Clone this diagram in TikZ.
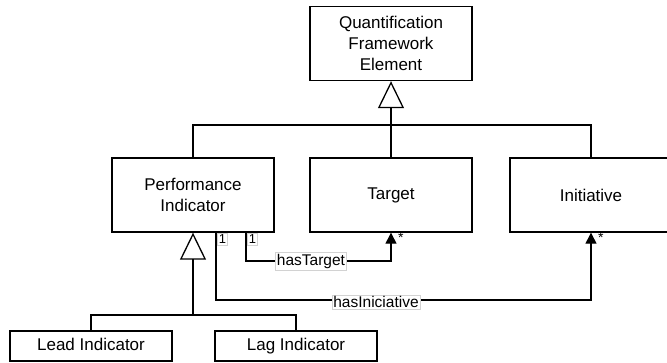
\documentclass[tikz,border=0pt]{standalone}
\usepackage{fontspec}
\setmainfont{Liberation Sans}
\usetikzlibrary{arrows.meta}

\begin{document}
\begin{tikzpicture}[x=1pt,y=-1pt,
  classbox/.style={draw=black,line width=1.4pt,minimum height=74pt,align=center,
    font=\fontsize{17}{21}\selectfont,inner sep=0pt},
  smallbox/.style={draw=black,line width=1.4pt,minimum height=30pt,minimum width=162pt,
    font=\fontsize{17}{21}\selectfont,inner sep=0pt,text height=12.5pt,text depth=3.5pt},
  gen/.style={line width=1.3pt,-{Triangle[open,length=27pt,width=26pt]}},
  conn/.style={line width=1.3pt},
  assoc/.style={line width=1.3pt,-{Triangle[length=11pt,width=11pt]}},
  edgelabel/.style={draw=gray!35,line width=0.6pt,fill=white,inner sep=1.5pt,
    font=\fontsize{15.5}{18}\selectfont},
  multlabel/.style={draw=gray!35,line width=0.5pt,fill=white,inner sep=1.5pt,
    font=\fontsize{13}{15}\selectfont},
  starlabel/.style={inner sep=1pt,font=\fontsize{14}{16}\selectfont}]
\useasboundingbox (0,0) rectangle (667,362);

% classes
\node[classbox,minimum width=162pt] (qfe) at (391,43.5) {Quantification\\Framework\\Element};
\node[classbox,minimum width=162pt] (pi) at (193,195) {Performance\\Indicator};
\node[classbox,minimum width=162pt] (target) at (391,195) {Target};
\node[classbox,minimum width=162pt] (init) at (591,195) {Initiative};
\node[smallbox] (lead) at (91,346) {Lead Indicator};
\node[smallbox] (lag) at (296,346) {Lag Indicator};

% generalisation to Quantification Framework Element
\coordinate (j1) at (391,125);
\draw[conn] (pi.north) |- (j1);
\draw[conn] (init.north) |- (j1);
\draw[gen] (target.north) -- (qfe.south);

% generalisation to Performance Indicator
\coordinate (j2) at (193,315);
\draw[conn] (lead.north) |- (j2);
\draw[conn] (lag.north) |- (j2);
\draw[gen] (j2) -- (pi.south);

% hasTarget association
\coordinate (t1) at (246,261);
\coordinate (t2) at (391,261);
\draw[assoc] (pi.south -| t1) -- (t1) -- (t2) -- (target.south);
\node[edgelabel] (ht) at (311,261.5) {hasTarget};

% hasIniciative association
\coordinate (i1) at (216,300);
\coordinate (i2) at (591,300);
\draw[assoc] (pi.south -| i1) -- (i1) -- (i2) -- (init.south);
\node[edgelabel] (hi) at (376,302) {hasIniciative};

% multiplicities
\node[multlabel,anchor=north west] (m1) at (217,233) {1};
\node[multlabel,anchor=north west] (m2) at (247,233) {1};
\node[starlabel,anchor=north west] (s1) at (397,232) {*};
\node[starlabel,anchor=north west] (s2) at (597,232) {*};
\end{tikzpicture}
\end{document}
